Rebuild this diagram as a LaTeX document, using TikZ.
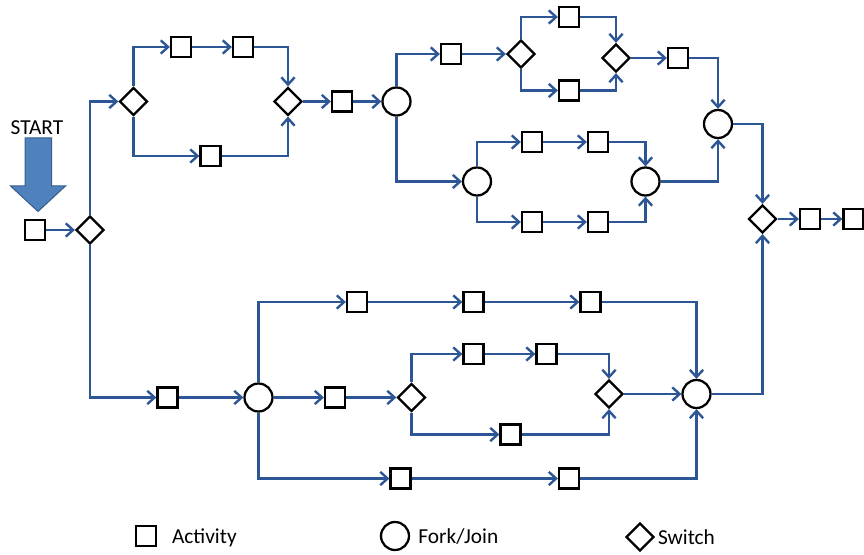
\documentclass[tikz,border=0pt]{standalone}
\usepackage{fontspec}
\setmainfont{Carlito}
\usetikzlibrary{arrows.meta,positioning,shapes.geometric}
\definecolor{flowblue}{RGB}{44,86,150}
\definecolor{startfill}{RGB}{79,129,189}
\definecolor{startline}{RGB}{56,93,138}
\tikzset{
    >={Straight Barb[length=5.5pt,width=10pt]},
    wf/.style={
        act/.append style={draw,line width=1.7pt,rectangle,minimum size=15pt,inner sep=0pt},
        fj/.append style={draw,line width=1.7pt,circle,minimum size=21pt,inner sep=0pt},
        sw/.append style={draw,line width=1.7pt,diamond,minimum size=21pt,inner sep=0pt},
        flow/.append style={draw=flowblue,line width=1.8pt,->},
        lbl/.append style={inner sep=0pt,text height=1.6ex,text depth=.25ex,yshift=-2.5pt,font=\fontsize{16}{19}\selectfont}
    }
}

\begin{document}
\begin{tikzpicture}[wf,x=0.75pt,y=-0.75pt]
    \useasboundingbox (0,0) rectangle (864,555);

    \node[lbl] (st) at (37,127) {START};
    \fill[startfill,draw=startline,line width=0.75pt]
        (25,138) -- (51.5,138) -- (51.5,186) -- (65.5,186) -- (38,211.5)
        -- (10.5,186) -- (25,186) -- cycle;

    \node[act] (a0) at (35,230) {};
    \node[sw] (d1) at (90,230) {};

    % upper block
    \node[sw] (d2) at (133.5,101.5) {};
    \node[act] (a1) at (181,47) {};
    \node[act] (a2) at (243,47) {};
    \node[act] (a3) at (210.5,156) {};
    \node[sw] (d3) at (288,101.5) {};
    \node[act] (a4) at (342,101.5) {};
    \node[fj] (c1) at (396.5,101.5) {};

    \node[act] (a5) at (451,54) {};
    \node[sw] (d4) at (521,54) {};
    \node[act] (a6) at (569,17) {};
    \node[act] (a7) at (569,90.5) {};
    \node[sw] (d5) at (616,58) {};
    \node[act] (a8) at (678,58) {};
    \node[fj] (c2) at (718,124) {};

    \node[fj] (c3) at (477,181.5) {};
    \node[act] (a9) at (532,142) {};
    \node[act] (a10) at (598,142) {};
    \node[act] (a11) at (532,222) {};
    \node[act] (a12) at (598,222) {};
    \node[fj] (c4) at (645.5,181.5) {};

    \node[sw] (d6) at (762.5,219) {};
    \node[act] (a13) at (810,219) {};
    \node[act] (a14) at (853.5,219) {};

    % lower block
    \node[act] (a15) at (167.5,397.5) {};
    \node[fj] (c5) at (258.5,397.5) {};
    \node[act] (a16) at (357,302) {};
    \node[act] (a17) at (473.5,302) {};
    \node[act] (a18) at (590.5,302) {};
    \node[act] (a19) at (335,397.5) {};
    \node[sw] (d7) at (411.5,397.5) {};
    \node[act] (a20) at (473.5,354) {};
    \node[act] (a21) at (546.5,354) {};
    \node[act] (a22) at (510.5,434.5) {};
    \node[sw] (d8) at (609,394) {};
    \node[fj] (c6) at (696.5,394) {};
    \node[act] (a23) at (400.5,478.5) {};
    \node[act] (a24) at (569,478.5) {};

    \draw[flow] (a0) -- (d1);
    \draw[flow] (d1) |- (d2);
    \draw[flow] (d2) |- (a1);
    \draw[flow] (a1) -- (a2);
    \draw[flow] (a2) -| (d3);
    \draw[flow] (d2) |- (a3);
    \draw[flow] (a3) -| (d3);
    \draw[flow] (d3) -- (a4);
    \draw[flow] (a4) -- (c1);
    \draw[flow] (c1) |- (a5);
    \draw[flow] (a5) -- (d4);
    \draw[flow] (d4) |- (a6);
    \draw[flow] (a6) -| (d5);
    \draw[flow] (d4) |- (a7);
    \draw[flow] (a7) -| (d5);
    \draw[flow] (d5) -- (a8);
    \draw[flow] (a8) -| (c2);
    \draw[flow] (c1) |- (c3);
    \draw[flow] (c3) |- (a9);
    \draw[flow] (a9) -- (a10);
    \draw[flow] (a10) -| (c4);
    \draw[flow] (c3) |- (a11);
    \draw[flow] (a11) -- (a12);
    \draw[flow] (a12) -| (c4);
    \draw[flow] (c4) -| (c2);
    \draw[flow] (c2) -| (d6);
    \draw[flow] (d6) -- (a13);
    \draw[flow] (a13) -- (a14);

    \draw[flow] (d1) |- (a15);
    \draw[flow] (a15) -- (c5);
    \draw[flow] (c5) |- (a16);
    \draw[flow] (a16) -- (a17);
    \draw[flow] (a17) -- (a18);
    \draw[flow] (a18) -| (c6);
    \draw[flow] (c5) -- (a19);
    \draw[flow] (a19) -- (d7);
    \draw[flow] (d7) |- (a20);
    \draw[flow] (a20) -- (a21);
    \draw[flow] (a21) -| (d8);
    \draw[flow] (d7) |- (a22);
    \draw[flow] (a22) -| (d8);
    \draw[flow] (d8) -- (c6);
    \draw[flow] (c5) |- (a23);
    \draw[flow] (a23) -- (a24);
    \draw[flow] (a24) -| (c6);
    \draw[flow] (c6) -| (d6);

    % legend
    \node[act] (la) at (146,536) {};
    \node[lbl,right=11pt of la] (lat) {Activity};
    \node[fj] (lf) at (395,536) {};
    \node[lbl,right=6pt of lf] (lft) {Fork/Join};
    \node[sw] (ls) at (640,537) {};
    \node[lbl,right=2pt of ls] (lst) {Switch};
\end{tikzpicture}
\end{document}
